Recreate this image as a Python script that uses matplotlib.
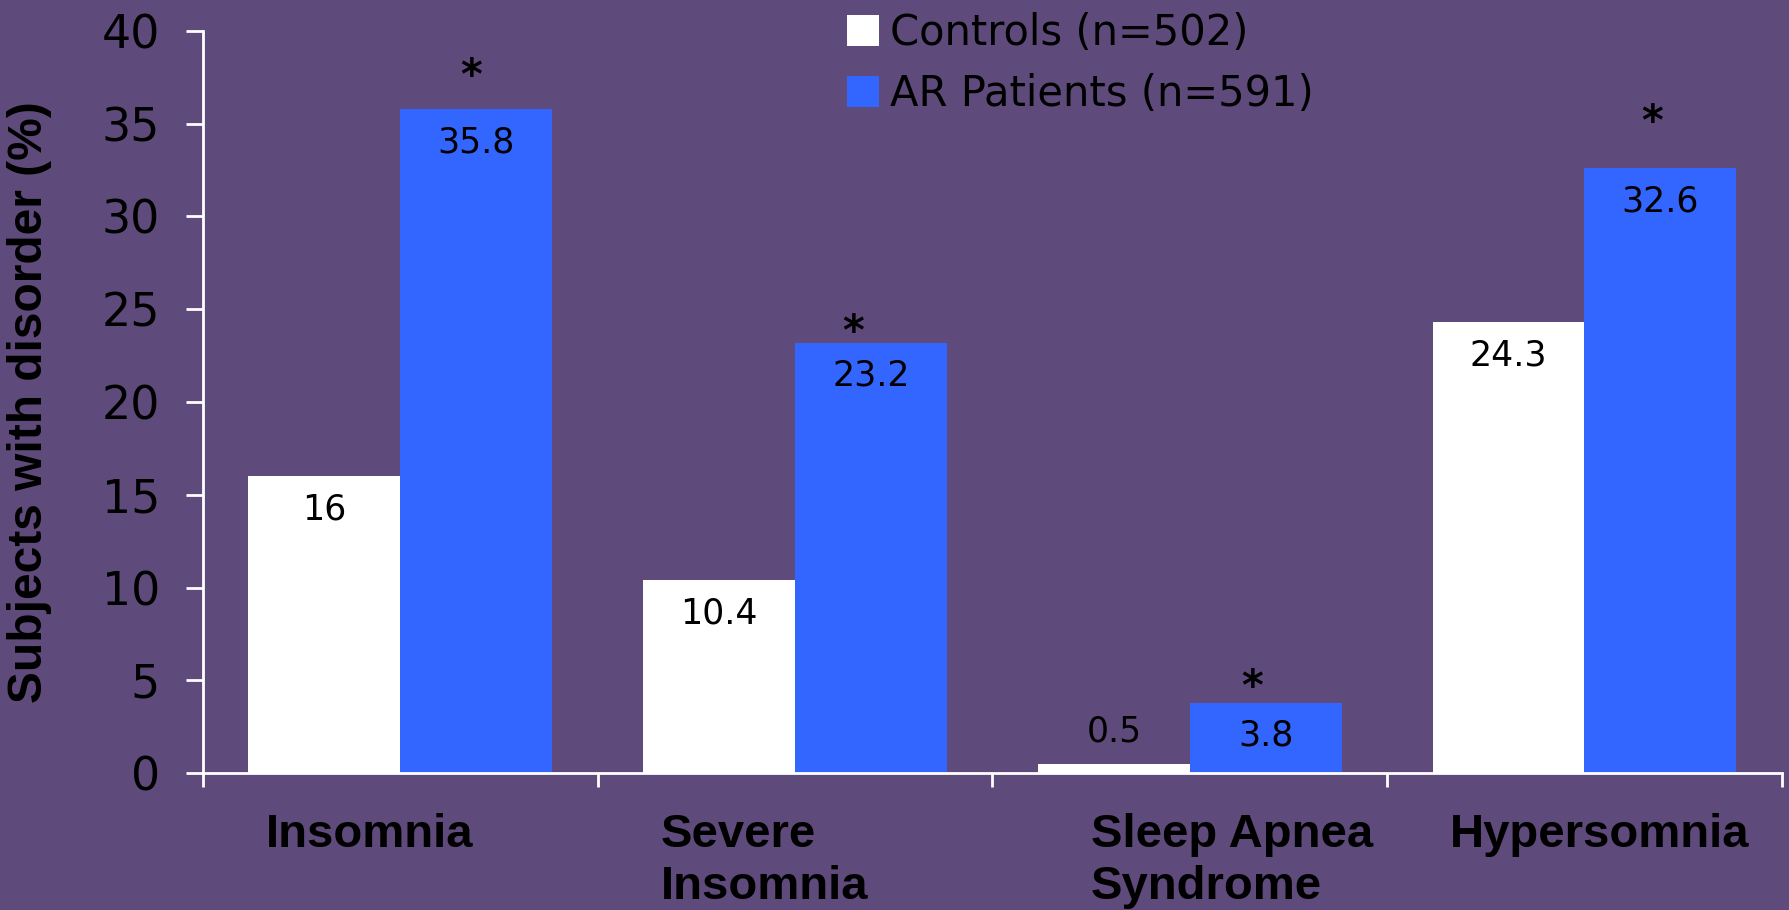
import matplotlib
matplotlib.use('Agg')
import matplotlib.pyplot as plt
from matplotlib.patches import Patch
from matplotlib.transforms import blended_transform_factory
import numpy as np

# Sleep disorders in controls vs allergic rhinitis patients
categories = ['Insomnia', 'Severe\nInsomnia', 'Sleep Apnea\nSyndrome', 'Hypersomnia']
controls = [16, 10.4, 0.5, 24.3]
ar_patients = [35.8, 23.2, 3.8, 32.6]
value_texts_controls = ['16', '10.4', '0.5', '24.3']
value_texts_ar = ['35.8', '23.2', '3.8', '32.6']
legend_labels = ['Controls (n=502)', 'AR Patients (n=591)']
y_ticks = [0, 5, 10, 15, 20, 25, 30, 35, 40]

BG = '#5F4B7B'
WHITE = '#FFFFFF'
BLUE = '#3366FF'

# per-category placement of the significance stars (points) and x labels
star_dx = [-4, -13, -10, -6]
star_dy = [14, -2, 2, 24]
label_dx = [-0.34, -0.34, -0.25, -0.34]

fig = plt.figure(figsize=(17.89, 9.10), dpi=100, facecolor=BG)
ax = fig.add_axes([0.1135, 0.1505, 0.8825, 0.8155])
ax.set_facecolor(BG)

x = np.arange(len(categories))
w = 0.385
ax.bar(x - w / 2, controls, w, color=WHITE, linewidth=0)
ax.bar(x + w / 2, ar_patients, w, color=BLUE, linewidth=0)

ax.set_xlim(-0.5, len(categories) - 0.5)
ax.set_ylim(0, 40)

# value labels inside the bars (or just above when the bar is too short)
for xs, vals, texts in [(x - w / 2, controls, value_texts_controls),
                        (x + w / 2, ar_patients, value_texts_ar)]:
    for xi, v, t in zip(xs, vals, texts):
        dy = 23 if v < 2 else -24
        ax.annotate(t, (xi, v), xytext=(0, dy), textcoords='offset points',
                    ha='center', va='center', fontsize=25, color='black',
                    family='DejaVu Sans')

for xi, v, dx, dy in zip(x + w / 2, ar_patients, star_dx, star_dy):
    ax.annotate('*', (xi, v), xytext=(dx, dy), textcoords='offset points',
                ha='center', va='baseline', fontsize=30, fontweight='bold',
                color='black', family='DejaVu Sans')

# spines and ticks
for side in ['top', 'right']:
    ax.spines[side].set_visible(False)
for side in ['left', 'bottom']:
    ax.spines[side].set_color('white')
    ax.spines[side].set_linewidth(2)

ax.set_yticks(y_ticks)
ax.tick_params(axis='y', direction='out', length=12, width=2, color='white',
               pad=19, labelsize=33, labelcolor='black')
for lab in ax.get_yticklabels():
    lab.set_family('DejaVu Sans')

ax.set_xticks(np.arange(len(categories) + 1) - 0.5)
ax.set_xticklabels([])
ax.tick_params(axis='x', direction='out', length=10, width=2, color='white')

trans = blended_transform_factory(ax.transData, ax.transAxes)
for xi, name, dx in zip(x, categories, label_dx):
    ax.text(xi + dx, -0.054, name, transform=trans, ha='left', va='top',
            fontsize=34, fontweight='bold', family='Liberation Sans',
            color='black', linespacing=1.22)

ax.set_ylabel('Subjects with disorder (%)', fontsize=34.5, fontweight='bold',
              family='Liberation Sans', color='black')
ax.yaxis.set_label_coords(-0.0956, 0.5)

handles = [Patch(facecolor=WHITE, edgecolor='none'),
           Patch(facecolor=BLUE, edgecolor='none')]
fig.legend(handles, legend_labels, loc='upper left',
           bbox_to_anchor=(0.4735, 0.987), frameon=False,
           handlelength=0.77, handleheight=0.77, handletextpad=0.27,
           labelspacing=0.47, borderpad=0, borderaxespad=0,
           prop={'family': 'DejaVu Sans', 'size': 30})

fig.savefig('out.png', dpi=100, facecolor=BG)
